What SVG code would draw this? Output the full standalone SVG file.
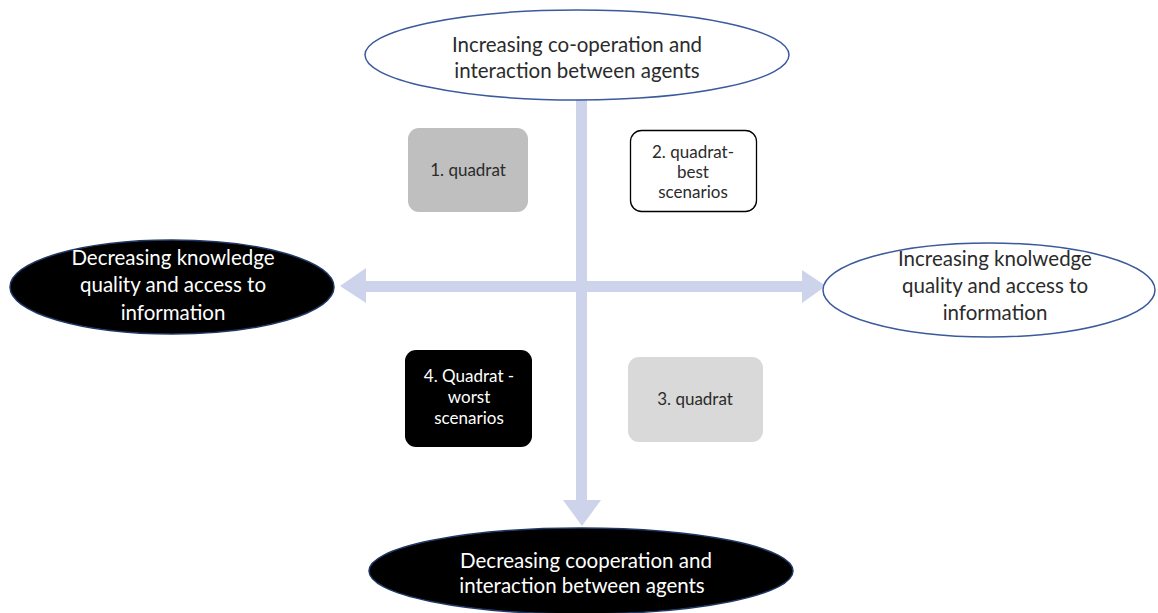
<svg xmlns="http://www.w3.org/2000/svg" width="1158" height="613" viewBox="0 0 1158 613">
<style>
text{font-family:Lato,"Open Sans","Liberation Sans",sans-serif;text-anchor:middle}
.big{font-size:20.5px}
.sm{font-size:17px}
.dark{fill:#2b2b2b}
.light{fill:#ffffff}
.axis{fill:#cdd3ea}
</style>
<rect width="1158" height="613" fill="#ffffff"/>
<g id="connectors">
<rect class="axis" x="576" y="100" width="11" height="402"/>
<polygon class="axis" points="563,500 601,500 582,526"/>
<rect class="axis" x="364" y="281" width="440" height="11"/>
<polygon class="axis" points="366,268 366,303 340,286"/>
<polygon class="axis" points="802,270 802,303 826,286"/>
</g>
<g id="top">
<ellipse cx="577" cy="55" rx="212" ry="45" fill="#ffffff" stroke="#3a5a9c" stroke-width="1.5"/>
<text class="big dark" x="577" y="52">Increasing co-operation and</text>
<text class="big dark" x="577" y="78">interaction between agents</text>
</g>
<g id="left">
<ellipse cx="172" cy="287" rx="162" ry="47" fill="#000000" stroke="#1f3864" stroke-width="1.5"/>
<text class="big light" x="173" y="265">Decreasing knowledge</text>
<text class="big light" x="173" y="292">quality and access to</text>
<text class="big light" x="173" y="320">information</text>
</g>
<g id="right">
<ellipse cx="989" cy="290" rx="166" ry="47" fill="#ffffff" stroke="#3a5a9c" stroke-width="1.5"/>
<text class="big dark" x="995" y="266">Increasing knolwedge</text>
<text class="big dark" x="995" y="293">quality and access to</text>
<text class="big dark" x="995" y="320">information</text>
</g>
<g id="bottom">
<ellipse cx="581" cy="571" rx="212" ry="43" fill="#000000" stroke="#1f3864" stroke-width="1.5"/>
<text class="big light" x="586" y="568">Decreasing cooperation  and</text>
<text class="big light" x="582" y="593">interaction between agents</text>
</g>
<g id="q1">
<rect x="408" y="128" width="120" height="84" rx="11" fill="#bfbfbf"/>
<text class="sm dark" x="468" y="176">1. quadrat</text>
</g>
<g id="q2">
<rect x="630.5" y="130.5" width="126" height="81" rx="11" fill="#ffffff" stroke="#000000" stroke-width="1.3"/>
<text class="sm dark" x="693" y="158">2. quadrat-</text>
<text class="sm dark" x="693" y="178">best</text>
<text class="sm dark" x="693" y="198">scenarios</text>
</g>
<g id="q4">
<rect x="405" y="350" width="127" height="97" rx="11" fill="#000000"/>
<text class="sm light" x="469" y="382">4. Quadrat -</text>
<text class="sm light" x="469" y="403">worst</text>
<text class="sm light" x="469" y="424">scenarios</text>
</g>
<g id="q3">
<rect x="628" y="357" width="135" height="85" rx="11" fill="#d9d9d9"/>
<text class="sm dark" x="695" y="405">3. quadrat</text>
</g>
</svg>
